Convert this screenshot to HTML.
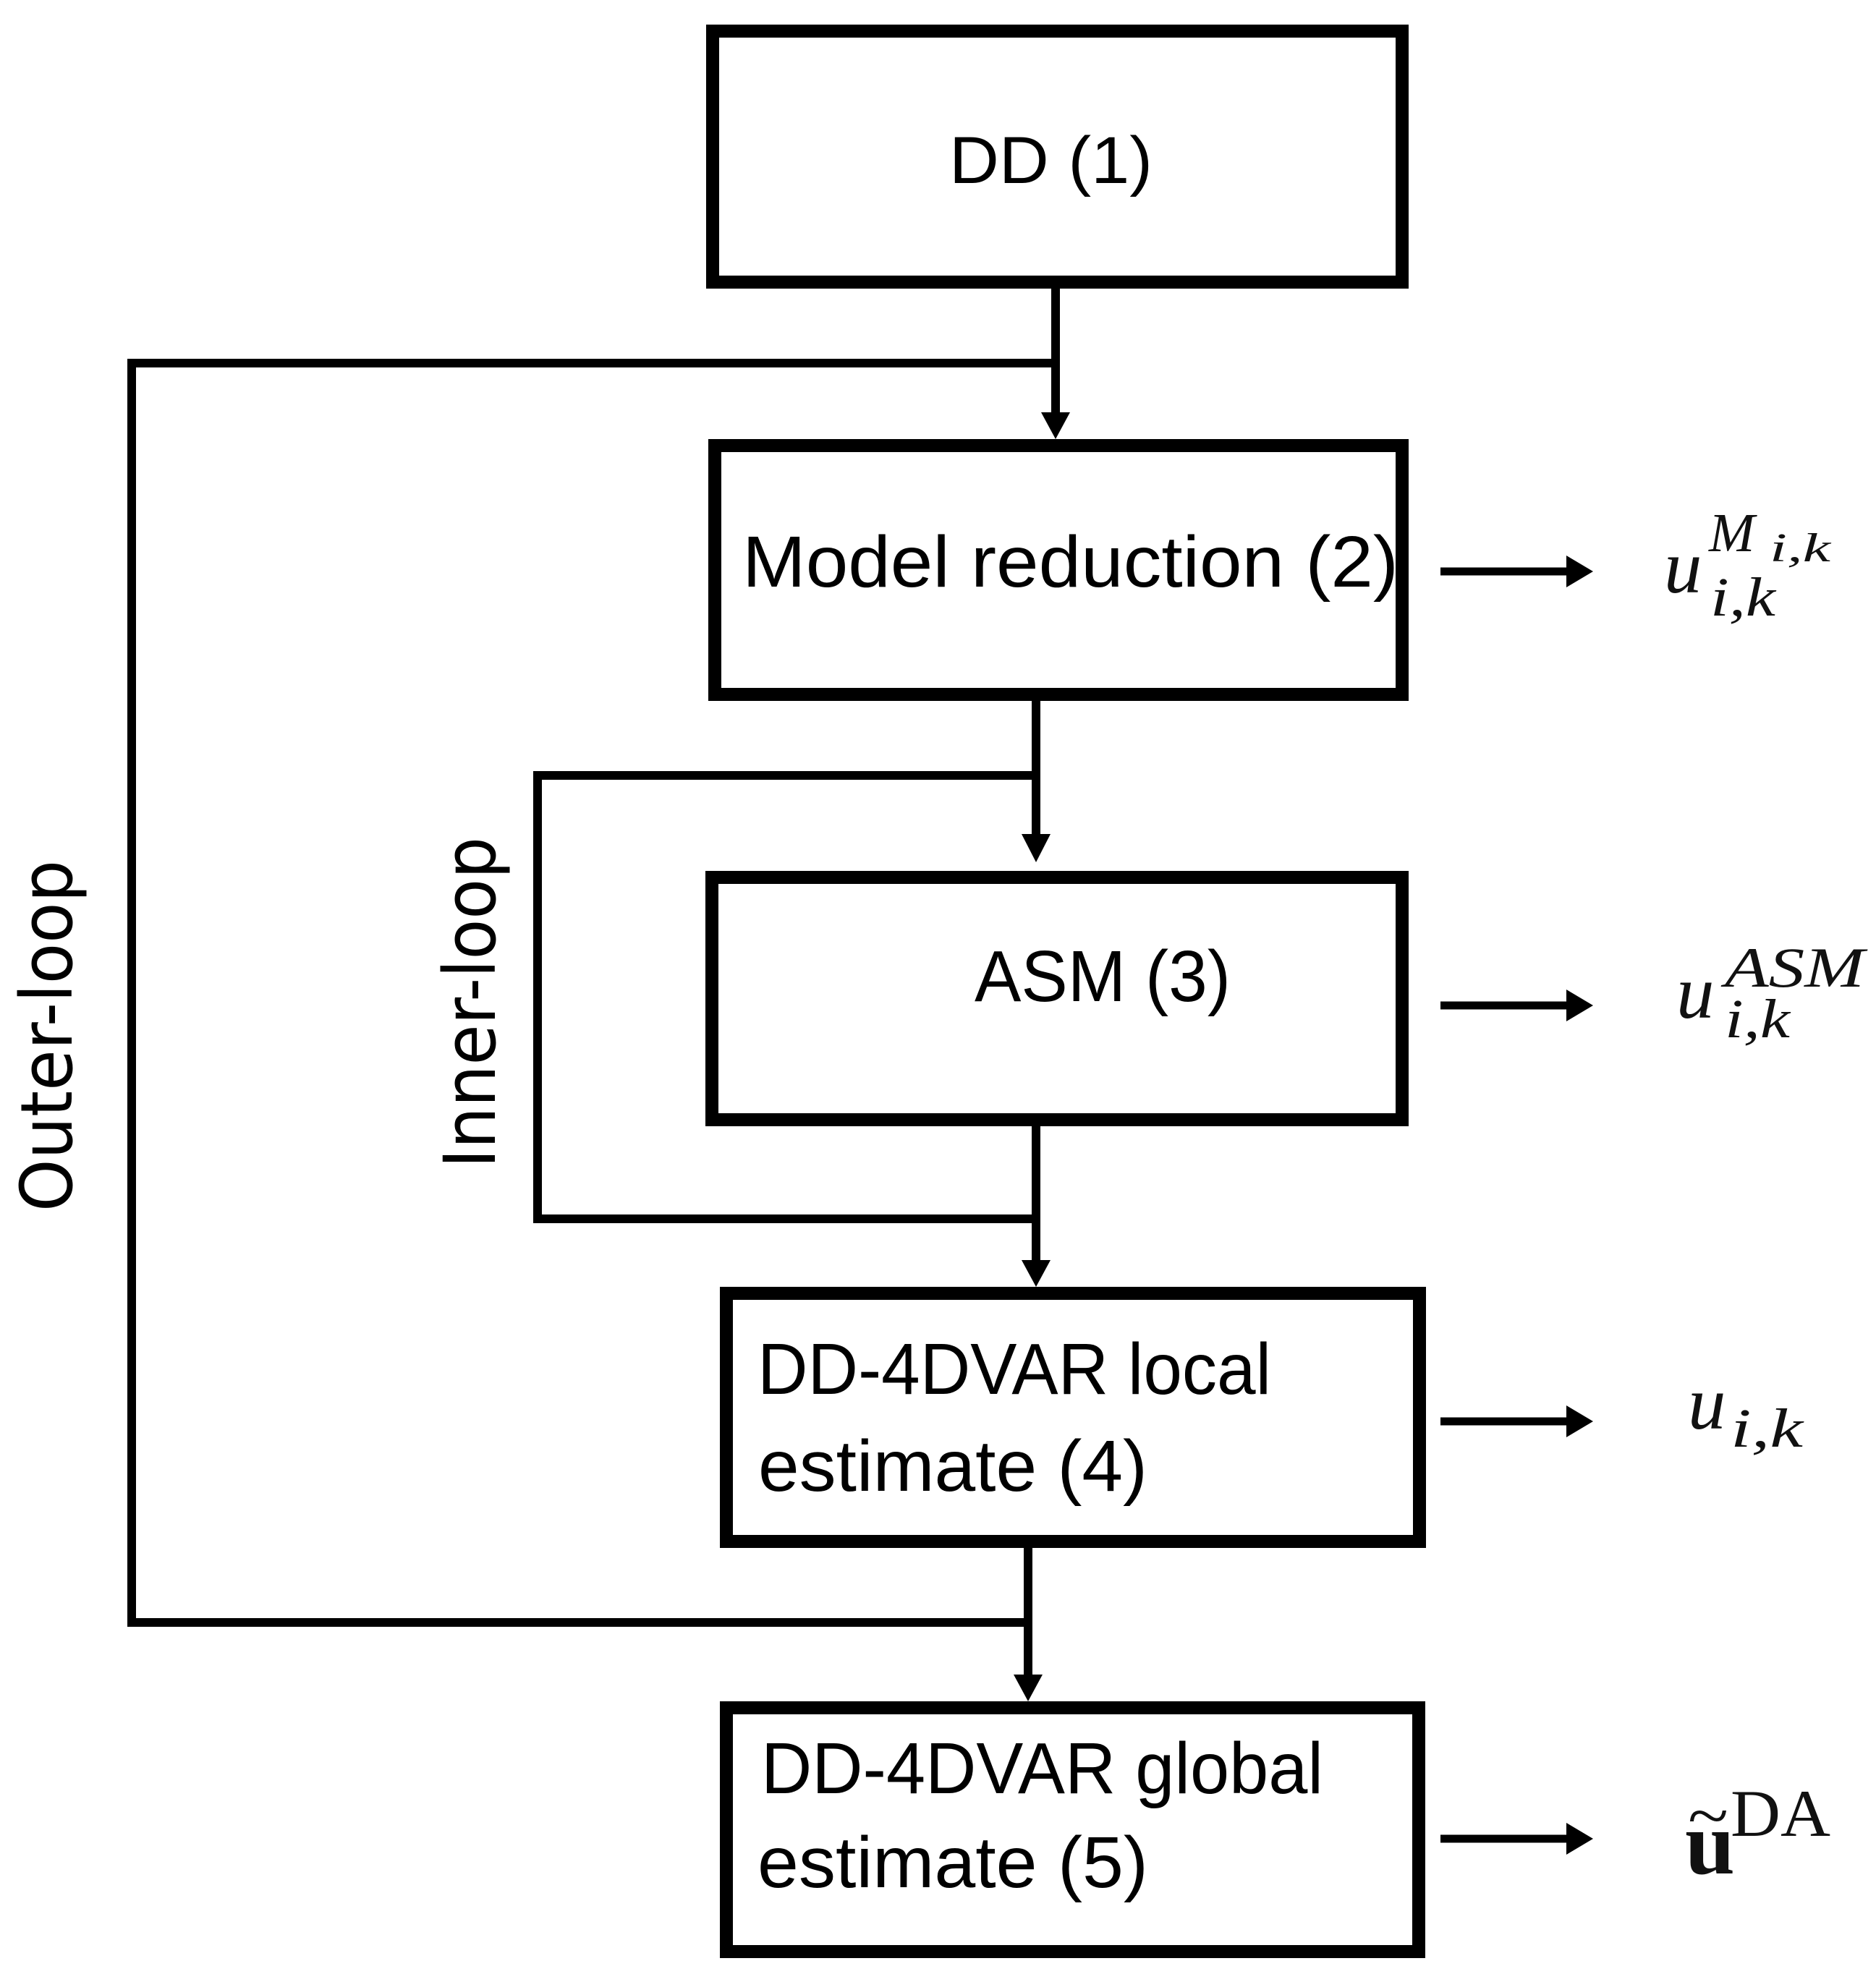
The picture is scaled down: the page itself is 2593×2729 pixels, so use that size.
<!DOCTYPE html>
<html><head><meta charset="utf-8">
<style>
html,body{margin:0;padding:0;background:#fff;}
svg{display:block;}
.t{font-family:"Liberation Sans",sans-serif;fill:#000;}
.r{font-family:"DejaVu Sans","Liberation Sans",sans-serif;fill:#000;}
.m{font-family:"Liberation Serif",serif;font-style:italic;fill:#111;}
.b{font-family:"Liberation Serif",serif;font-weight:bold;fill:#111;}
</style></head>
<body>
<svg width="2593" height="2729" viewBox="0 0 2593 2729" xmlns="http://www.w3.org/2000/svg">
<rect width="2593" height="2729" fill="#fff"/>
<g fill="none" stroke="#000" stroke-width="18">
<rect x="985" y="43" width="953" height="347"/>
<rect x="988" y="616" width="950" height="344"/>
<rect x="984" y="1213" width="954" height="335"/>
<rect x="1004" y="1788" width="958" height="343"/>
<rect x="1004" y="2361" width="957" height="337"/>
</g>
<g stroke="#000" stroke-width="12" fill="none">
<line x1="1459" y1="399" x2="1459" y2="575"/>
<line x1="176" y1="502" x2="1465" y2="502"/>
<line x1="182" y1="496" x2="182" y2="2249"/>
<line x1="176" y1="2243" x2="1427" y2="2243"/>
<line x1="1432" y1="969" x2="1432" y2="1160"/>
<line x1="737" y1="1072" x2="1438" y2="1072"/>
<line x1="743" y1="1066" x2="743" y2="1691"/>
<line x1="737" y1="1685" x2="1438" y2="1685"/>
<line x1="1432" y1="1557" x2="1432" y2="1750"/>
<line x1="1421" y1="2140" x2="1421" y2="2320"/>
</g>
<g fill="#000">
<polygon points="1439,570 1479,570 1459,607"/>
<polygon points="1412,1153 1452,1153 1432,1192"/>
<polygon points="1412,1742 1452,1742 1432,1779"/>
<polygon points="1401,2315 1441,2315 1421,2352"/>
</g>
<g stroke="#000" stroke-width="11">
<line x1="1991" y1="790" x2="2170" y2="790"/>
<line x1="1991" y1="1390" x2="2170" y2="1390"/>
<line x1="1991" y1="1965" x2="2170" y2="1965"/>
<line x1="1991" y1="2542" x2="2170" y2="2542"/>
</g>
<g fill="#000">
<polygon points="2165,768 2202,790 2165,812"/>
<polygon points="2165,1368 2202,1390 2165,1412"/>
<polygon points="2165,1943 2202,1965 2165,1987"/>
<polygon points="2165,2520 2202,2542 2165,2564"/>
</g>
<text class="t" x="1312" y="253" font-size="92" textLength="281" lengthAdjust="spacingAndGlyphs">DD (1)</text>
<text class="t" x="1026" y="811" font-size="100" textLength="907" lengthAdjust="spacingAndGlyphs">Model reduction (2)</text>
<text class="t" x="1347" y="1384" font-size="100" textLength="354" lengthAdjust="spacingAndGlyphs">ASM (3)</text>
<text class="t" x="1047" y="1927" font-size="100" textLength="710" lengthAdjust="spacingAndGlyphs">DD-4DVAR local</text>
<text class="t" x="1048" y="2061" font-size="100" textLength="538" lengthAdjust="spacingAndGlyphs">estimate (4)</text>
<text class="t" x="1052" y="2479" font-size="100" textLength="777" lengthAdjust="spacingAndGlyphs">DD-4DVAR global</text>
<text class="t" x="1047" y="2609" font-size="100" textLength="540" lengthAdjust="spacingAndGlyphs">estimate (5)</text>
<text class="r" transform="translate(99,1675) rotate(-90)" font-size="99" textLength="486" lengthAdjust="spacingAndGlyphs">Outer-loop</text>
<text class="r" transform="translate(684,1615) rotate(-90)" font-size="99" textLength="458" lengthAdjust="spacingAndGlyphs">Inner-loop</text>
<!-- u_{i,k}^{M_{i,k}} -->
<text class="m" x="2300" y="819" font-size="105">u</text>
<text class="m" x="2362" y="762" font-size="76">M</text>
<text class="m" x="2446" y="776" font-size="56" textLength="84" lengthAdjust="spacingAndGlyphs">i,k</text>
<text class="m" x="2364" y="851" font-size="76" textLength="90" lengthAdjust="spacingAndGlyphs">i,k</text>
<!-- u_{i,k}^{ASM} -->
<text class="m" x="2317" y="1407" font-size="105">u</text>
<text class="m" x="2384" y="1364" font-size="78" textLength="193" lengthAdjust="spacingAndGlyphs">ASM</text>
<text class="m" x="2384" y="1434" font-size="76" textLength="90" lengthAdjust="spacingAndGlyphs">i,k</text>
<!-- u_{i,k} -->
<text class="m" x="2333" y="1975" font-size="105">u</text>
<text class="m" x="2392" y="2000" font-size="76" textLength="100" lengthAdjust="spacingAndGlyphs">i,k</text>
<!-- tilde u ^DA -->
<text class="b" x="2329" y="2590" font-size="124">u</text>
<text x="2333" y="2540" font-family="Liberation Serif,serif" font-size="90" fill="#111" textLength="56" lengthAdjust="spacingAndGlyphs">~</text>
<text x="2392" y="2538" font-family="Liberation Serif,serif" font-size="92" fill="#111" textLength="138" lengthAdjust="spacingAndGlyphs">DA</text>
</svg>
</body></html>
